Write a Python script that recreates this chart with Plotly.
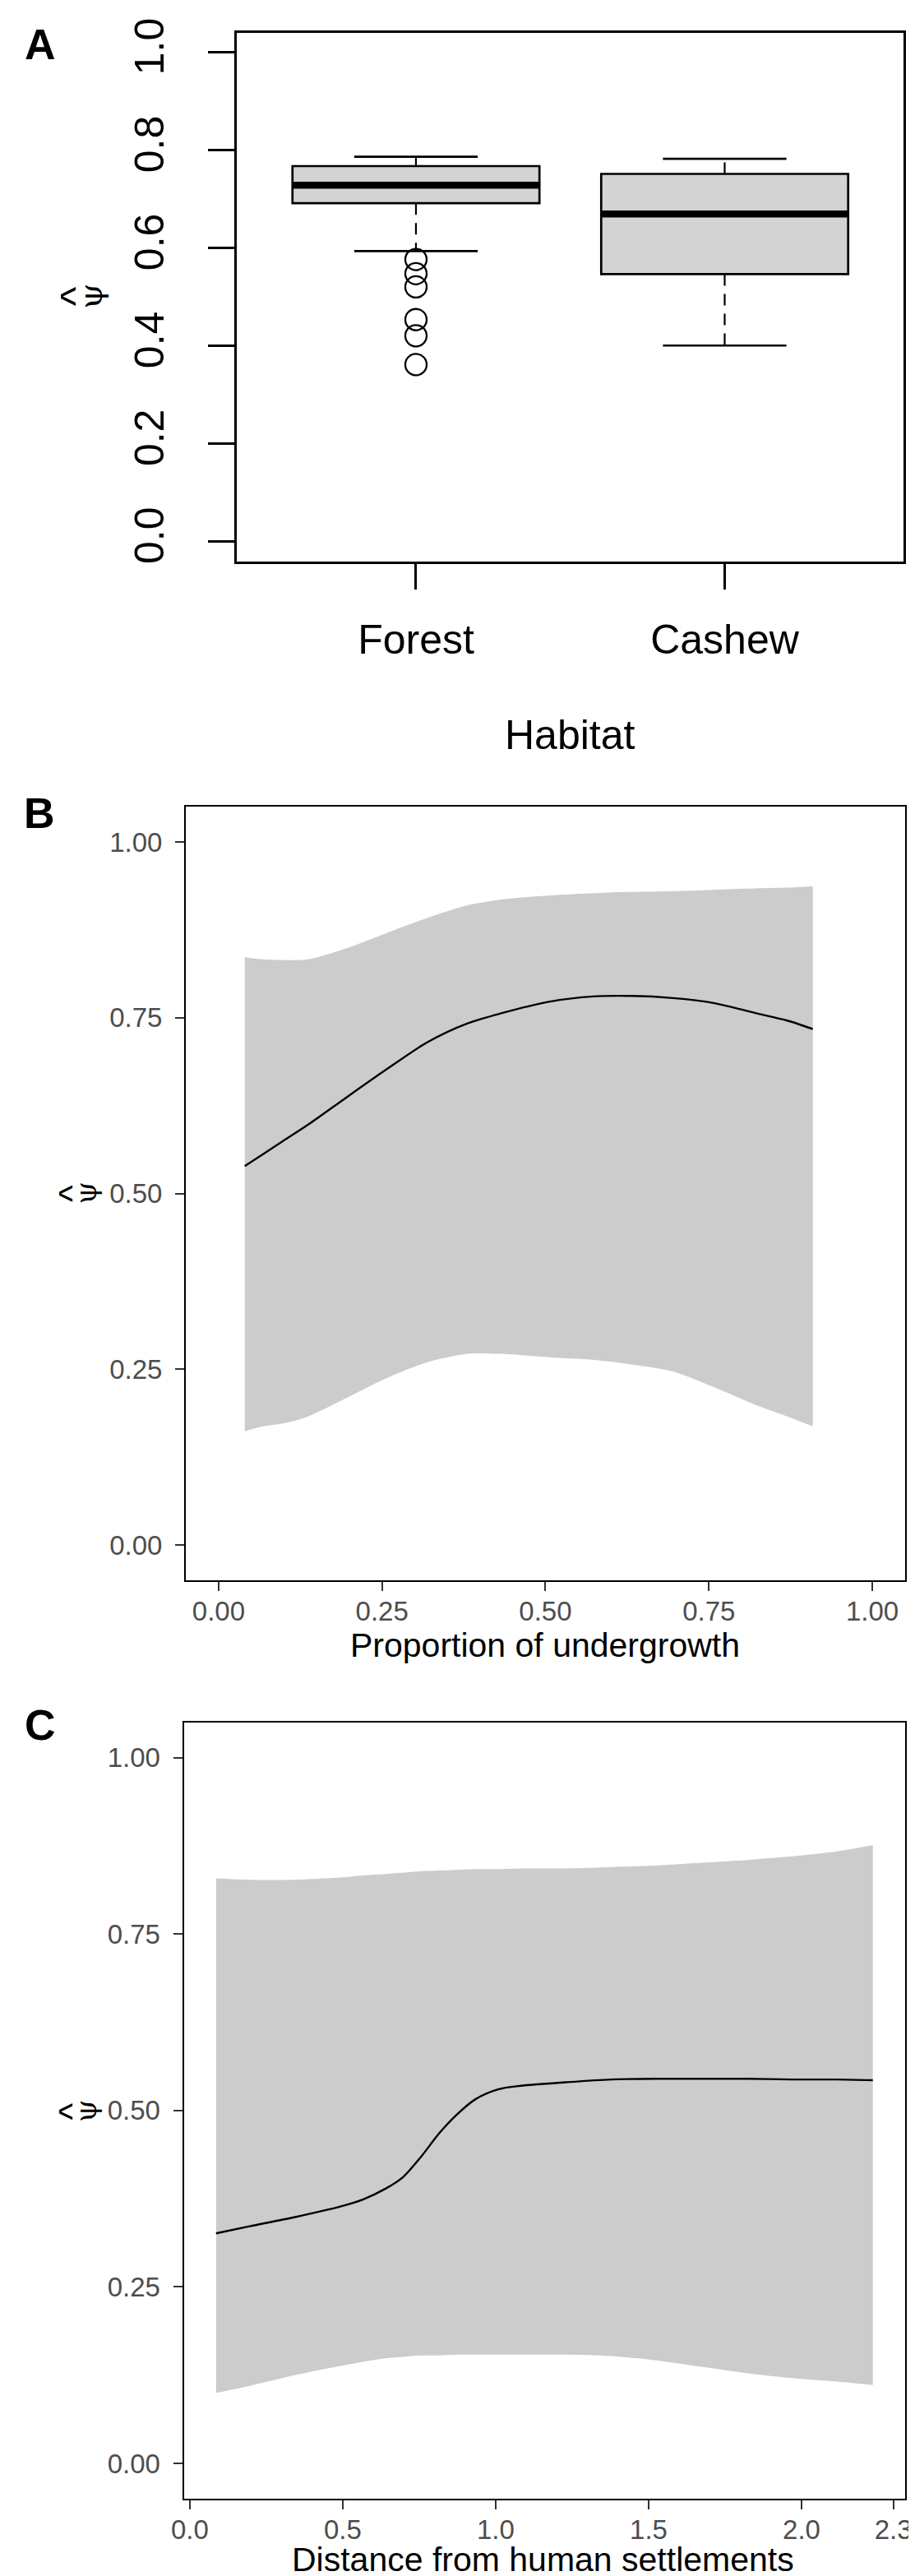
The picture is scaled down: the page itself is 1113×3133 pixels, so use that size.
import plotly.graph_objects as go

W, H = 1113, 3133

# ---- panel A: boxplot of psi-hat by habitat
habitats = ["Forest", "Cashew"]
hab_pos = [1, 2]
q1 = [0.692, 0.547]
med = [0.729, 0.670]
q3 = [0.768, 0.752]
lower_wh = [0.594, 0.401]
upper_wh = [0.787, 0.783]
forest_outliers = [0.577, 0.548, 0.521, 0.454, 0.421, 0.362]

# ---- panel B: psi-hat vs proportion of undergrowth
under_x = [0.040, 0.068, 0.099, 0.137, 0.193, 0.256, 0.319, 0.381, 0.431,
           0.507, 0.569, 0.632, 0.695, 0.757, 0.820, 0.870, 0.909]
under_fit = [0.539, 0.556, 0.575, 0.598, 0.635, 0.676, 0.715, 0.742, 0.756,
             0.773, 0.780, 0.781, 0.778, 0.771, 0.757, 0.746, 0.734]
under_hi = [0.836, 0.833, 0.832, 0.833, 0.848, 0.870, 0.892, 0.910, 0.918,
            0.924, 0.927, 0.929, 0.930, 0.932, 0.934, 0.935, 0.937]
under_lo = [0.162, 0.169, 0.173, 0.183, 0.208, 0.237, 0.260, 0.272, 0.272,
            0.267, 0.264, 0.257, 0.247, 0.225, 0.200, 0.183, 0.169]

# ---- panel C: psi-hat vs distance from human settlements
dist_x = [0.086, 0.196, 0.344, 0.492, 0.566, 0.639, 0.698, 0.757, 0.816, 0.875,
          0.934, 1.008, 1.082, 1.229, 1.377, 1.524, 1.672, 1.820, 1.967, 2.115, 2.233]
dist_fit = [0.326, 0.336, 0.349, 0.364, 0.374, 0.389, 0.406, 0.435, 0.468, 0.495,
            0.516, 0.530, 0.535, 0.540, 0.544, 0.545, 0.545, 0.545, 0.544, 0.544, 0.543]
dist_hi = [0.829, 0.827, 0.827, 0.830, 0.833, 0.835, 0.837, 0.839, 0.840, 0.841,
           0.842, 0.842, 0.843, 0.843, 0.845, 0.847, 0.851, 0.855, 0.860, 0.867, 0.876]
dist_lo = [0.100, 0.110, 0.125, 0.138, 0.144, 0.149, 0.151, 0.153, 0.153, 0.154,
           0.154, 0.154, 0.154, 0.154, 0.152, 0.146, 0.137, 0.128, 0.121, 0.116, 0.111]

SANS = "Liberation Sans, Arial, sans-serif"
SERIF = "DejaVu Serif, Liberation Serif, serif"


def fx(px):
    return px / W


def fy(py):
    return 1 - py / H


fig = go.Figure()

# boxes (whiskers drawn separately so they can be dashed like base R)
for i in range(len(habitats)):
    p = hab_pos[i]
    fig.add_trace(go.Box(
        x=[p], q1=[q1[i]], median=[med[i]], q3=[q3[i]],
        lowerfence=[q1[i]], upperfence=[q3[i]], width=0.8, whiskerwidth=0,
        fillcolor="#D3D3D3", line=dict(color="black", width=2.7),
        boxpoints=False, showlegend=False, xaxis="x", yaxis="y"))
    fig.add_trace(go.Scatter(
        x=[p, p, None, p, p], y=[q3[i], upper_wh[i], None, q1[i], lower_wh[i]],
        mode="lines", line=dict(color="black", width=2.2, dash="14px,10px"),
        showlegend=False, xaxis="x", yaxis="y"))
    fig.add_trace(go.Scatter(
        x=[p - 0.2, p + 0.2, None, p - 0.2, p + 0.2],
        y=[upper_wh[i], upper_wh[i], None, lower_wh[i], lower_wh[i]],
        mode="lines", line=dict(color="black", width=2.7),
        showlegend=False, xaxis="x", yaxis="y"))
    fig.add_trace(go.Scatter(
        x=[p - 0.4, p + 0.4], y=[med[i], med[i]], mode="lines",
        line=dict(color="black", width=8.5), showlegend=False,
        xaxis="x", yaxis="y"))

fig.add_trace(go.Scatter(
    x=[hab_pos[0]] * len(forest_outliers), y=forest_outliers, mode="markers",
    marker=dict(symbol="circle-open", size=26, color="black",
                line=dict(color="black", width=2.3)),
    showlegend=False, xaxis="x", yaxis="y"))

# ribbons + fitted lines
for xs, lo, hi, fit, ax, ay in [(under_x, under_lo, under_hi, under_fit, "x2", "y2"),
                                (dist_x, dist_lo, dist_hi, dist_fit, "x3", "y3")]:
    fig.add_trace(go.Scatter(x=xs, y=lo, mode="lines",
                             line=dict(width=0, shape="spline", smoothing=0.8),
                             showlegend=False, xaxis=ax, yaxis=ay))
    fig.add_trace(go.Scatter(x=xs, y=hi, mode="lines",
                             line=dict(width=0, shape="spline", smoothing=0.8),
                             fill="tonexty", fillcolor="#CCCCCC",
                             showlegend=False, xaxis=ax, yaxis=ay))
    fig.add_trace(go.Scatter(x=xs, y=fit, mode="lines",
                             line=dict(color="black", width=2.4, shape="spline",
                                       smoothing=0.8),
                             showlegend=False, xaxis=ax, yaxis=ay))

base_a = dict(showgrid=False, zeroline=False, showline=True, linecolor="black",
              linewidth=3, mirror=True, ticks="outside", tickcolor="black",
              tickwidth=2.7, ticklabeloverflow="allow",
              tickfont=dict(family=SANS, size=50, color="black"))
base_gg = dict(showgrid=False, zeroline=False, showline=True, linecolor="black",
               linewidth=2.2, mirror=True, ticks="outside", tickcolor="#333333",
               tickwidth=2.2, ticklen=11, ticklabeloverflow="allow",
               tickfont=dict(family=SANS, size=33, color="#4D4D4D"))
ticks_gg = [0, 0.25, 0.5, 0.75, 1.0]
labels_gg = ["0.00", "0.25", "0.50", "0.75", "1.00"]

fig.update_layout(
    width=W, height=H, autosize=False,
    margin=dict(l=0, r=0, t=0, b=0),
    paper_bgcolor="white", plot_bgcolor="white",
    showlegend=False,
    xaxis=dict(base_a, domain=[fx(270), fx(1099)], range=[0.42, 2.58],
               tickvals=hab_pos, ticktext=habitats, ticklen=31,
               ticklabelstandoff=18, anchor="y"),
    yaxis=dict(base_a, domain=[fy(661), fy(14.3)], range=[-0.04, 1.04],
               tickvals=[0, 0.2, 0.4, 0.6, 0.8, 1.0],
               ticktext=["0.0", "0.2", "0.4", "0.6", "0.8", "1.0"],
               tickangle=-90, ticklen=32, ticklabelstandoff=34, anchor="x"),
    xaxis2=dict(base_gg, domain=[fx(206.6), fx(1100.5)], range=[-0.05, 1.05],
                tickvals=ticks_gg, ticktext=labels_gg, ticklabelstandoff=-4,
                anchor="y2"),
    yaxis2=dict(base_gg, domain=[fy(1908.8), fy(961.7)], range=[-0.05, 1.05],
                tickvals=ticks_gg, ticktext=labels_gg, ticklabelstandoff=9,
                anchor="x2"),
    xaxis3=dict(base_gg, domain=[fx(204), fx(1100.5)], range=[-0.0195, 2.338],
                tickvals=[0, 0.5, 1.0, 1.5, 2.0, 2.3],
                ticktext=["0.0", "0.5", "1.0", "1.5", "2.0", "2.3"],
                ticklabelstandoff=-4, anchor="y3"),
    yaxis3=dict(base_gg, domain=[fy(3033.3), fy(2082.7)], range=[-0.05, 1.05],
                tickvals=ticks_gg, ticktext=labels_gg, ticklabelstandoff=9,
                anchor="x3"),
)

annotations = [
    # panel letters
    dict(text="<b>A</b>", x=fx(4), y=fy(28), xanchor="left", yanchor="middle",
         font=dict(family=SANS, size=52, color="black")),
    dict(text="<b>B</b>", x=fx(3), y=fy(969), xanchor="left", yanchor="middle",
         font=dict(family=SANS, size=52, color="black")),
    dict(text="<b>C</b>", x=fx(4), y=fy(2086), xanchor="left", yanchor="middle",
         font=dict(family=SANS, size=52, color="black")),
    # axis titles
    dict(text="Habitat", x=fx(684.5), y=fy(874), xanchor="center", yanchor="middle",
         font=dict(family=SANS, size=50, color="black")),
    dict(text="Proportion of undergrowth", x=fx(653), y=fy(1988), xanchor="center",
         yanchor="middle", font=dict(family=SANS, size=41, color="black")),
    dict(text="Distance from human settlements", x=fx(651), y=0,
         xanchor="center", yanchor="bottom",
         font=dict(family=SANS, size=41, color="black")),
]
# y titles: psi with a hat, rotated like the reference (hat on the left)
for psi_x, hat_x, yc, psi_size, hat_size in [(88, 68, 337, 40, 50),
                                             (83, 65, 1435, 35, 44),
                                             (83, 65, 2559, 35, 44)]:
    annotations.append(dict(text="\u03c8", x=fx(psi_x), y=fy(yc), xanchor="center",
                            yanchor="middle", textangle=-90,
                            font=dict(family=SERIF, size=psi_size, color="black")))
    annotations.append(dict(text="^", x=fx(hat_x), y=fy(yc), xanchor="center",
                            yanchor="middle", textangle=-90,
                            font=dict(family=SANS, size=hat_size, color="black")))
for a in annotations:
    a.update(xref="paper", yref="paper", showarrow=False)
fig.update_layout(annotations=annotations)

fig.write_html("out.html")
